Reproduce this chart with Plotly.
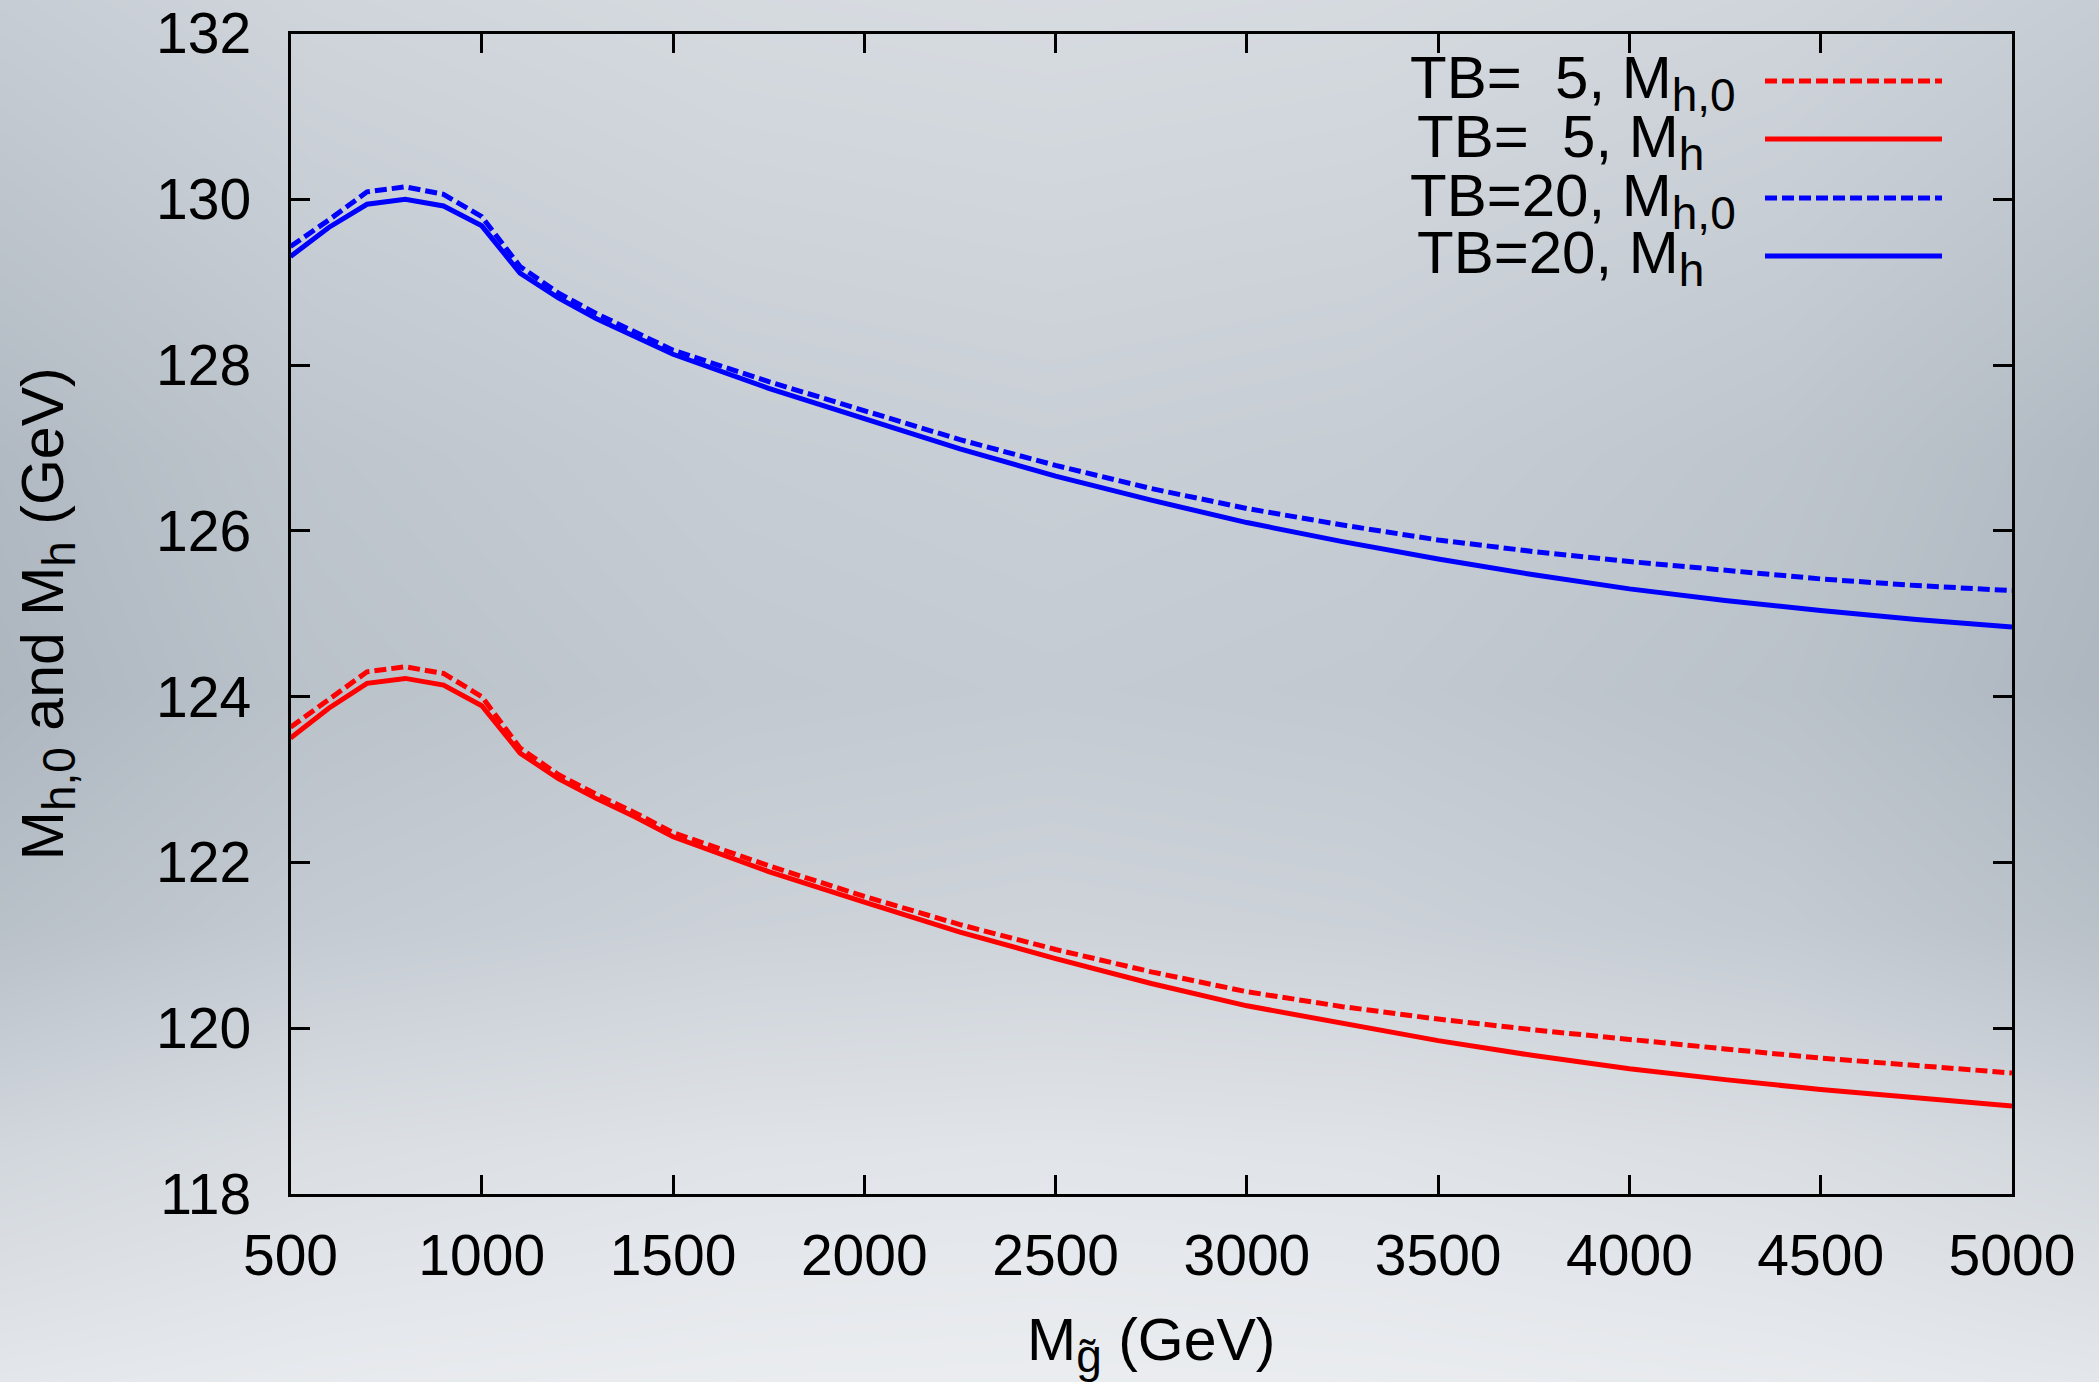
import plotly.graph_objects as go

# Gluino mass scan (GeV)
m_gluino = [500, 600, 700, 800, 900, 1000, 1100, 1200, 1300, 1400, 1500,
            1750, 2000, 2250, 2500, 2750, 3000, 3250, 3500, 3750, 4000,
            4250, 4500, 4750, 5000]

# Higgs masses (GeV): M_h,0 and full M_h for tan(beta) = 5 and 20
tb5_mh0 = [123.63, 123.96, 124.30, 124.36, 124.28, 124.00, 123.38, 123.06, 122.82,
           122.60, 122.36, 121.96, 121.59, 121.25, 120.95, 120.68, 120.44, 120.26,
           120.11, 119.98, 119.86, 119.75, 119.64, 119.55, 119.46]
tb5_mh = [123.50, 123.86, 124.16, 124.22, 124.14, 123.89, 123.32, 123.01, 122.77,
          122.55, 122.31, 121.89, 121.52, 121.16, 120.84, 120.54, 120.27, 120.06,
          119.85, 119.67, 119.51, 119.38, 119.26, 119.16, 119.06]
tb20_mh0 = [129.43, 129.75, 130.09, 130.15, 130.06, 129.79, 129.19, 128.87, 128.62,
            128.40, 128.18, 127.80, 127.45, 127.10, 126.79, 126.51, 126.27, 126.07,
            125.89, 125.75, 125.63, 125.52, 125.42, 125.34, 125.28]
tb20_mh = [129.31, 129.66, 129.94, 130.00, 129.92, 129.68, 129.11, 128.81, 128.56,
           128.34, 128.13, 127.72, 127.36, 126.99, 126.66, 126.37, 126.10, 125.87,
           125.66, 125.47, 125.30, 125.16, 125.04, 124.93, 124.84]

SUB = '<sub><span style="font-size:46px">{}</span></sub>'
DASH = "12px,5px"

series = [
    ("TB=\u00a0\u00a05, M" + SUB.format("h,0"), tb5_mh0, "#ff0000", DASH),
    ("TB=\u00a0\u00a05, M" + SUB.format("h"), tb5_mh, "#ff0000", "solid"),
    ("TB=20, M" + SUB.format("h,0"), tb20_mh0, "#0000ff", DASH),
    ("TB=20, M" + SUB.format("h"), tb20_mh, "#0000ff", "solid"),
]

x_ticks = [500, 1000, 1500, 2000, 2500, 3000, 3500, 4000, 4500, 5000]
y_ticks = [118, 120, 122, 124, 126, 128, 130, 132]

W, H = 2099, 1382
FONT = "Liberation Sans, Arial, Helvetica, sans-serif"
FS_TICK = 57
FS_TITLE = 59

fig = go.Figure()

# Soft slide-style backdrop: light at top and bottom, darker band with darker sides
bg_x = [0, 0.15, 0.35, 0.5, 0.65, 0.85, 1.0]
bg_edge_w = [1.0, 0.45, 0.1, 0.0, 0.1, 0.45, 1.0]
bg_y = [1.0, 0.83, 0.67, 0.5, 0.33, 0.17, 0.0]
bg_center = [0.68, 0.58, 0.48, 0.42, 0.55, 0.82, 0.95]
bg_edge = [0.45, 0.30, 0.15, 0.10, 0.25, 0.60, 0.85]
bg_z = [[c - w * (c - e) for w in bg_edge_w] for c, e in zip(bg_center, bg_edge)]

fig.add_trace(go.Heatmap(
    x=bg_x, y=bg_y, z=bg_z, zmin=0, zmax=1, zsmooth="best",
    colorscale=[[0, "#a6b0ba"], [1, "#eef0f3"]], showscale=False,
    hoverinfo="skip", xaxis="x", yaxis="y",
))

for name, vals, color, dash in series:
    fig.add_trace(go.Scatter(
        x=m_gluino, y=vals, mode="lines", name=name,
        line=dict(color=color, width=5, dash=dash),
        xaxis="x2", yaxis="y2", showlegend=False,
    ))

# Plot frame placement in pixels
L, R, T, B = 290.5, 2012, 33.5, 1194

# Key: label text on the left, line sample on the right
key_rows = [81, 139, 198, 256]
key_text_x = [1408, 1415, 1408, 1415]
for (name, vals, color, dash), ry, tx in zip(series, key_rows, key_text_x):
    fig.add_shape(type="line", xref="paper", yref="paper",
                  x0=1765 / W, x1=1942 / W, y0=1 - ry / H, y1=1 - ry / H,
                  line=dict(color=color, width=5, dash=dash))
    fig.add_annotation(xref="paper", yref="paper", x=tx / W, y=1 - (ry + 2) / H,
                       xanchor="left", yanchor="middle", text=name, showarrow=False,
                       font=dict(family=FONT, size=60, color="#000000"))

axis_common = dict(
    showline=True, linecolor="#000000", linewidth=3, mirror="ticks",
    ticks="inside", ticklen=19, tickwidth=2.5, tickcolor="#000000",
    showgrid=False, zeroline=False, automargin=False,
    tickfont=dict(family=FONT, size=FS_TICK, color="#000000"),
)

fig.update_layout(
    width=W, height=H,
    margin=dict(l=0, r=0, t=0, b=0, pad=0, autoexpand=False),
    paper_bgcolor="#dfe3e7",
    plot_bgcolor="rgba(0,0,0,0)",
    showlegend=False,
    xaxis=dict(domain=[0, 1], range=[0, 1], visible=False, fixedrange=True,
               automargin=False),
    yaxis=dict(domain=[0, 1], range=[0, 1], visible=False, fixedrange=True,
               automargin=False),
    xaxis2=dict(
        domain=[L / W, R / W], anchor="y2", range=[500, 5000],
        tickvals=x_ticks, ticktext=[str(v) for v in x_ticks],
        ticklabelstandoff=10,
        title=dict(text="M" + SUB.format("g\u0303") + " (GeV)", standoff=42,
                   font=dict(family=FONT, size=FS_TITLE, color="#000000")),
        **axis_common,
    ),
    yaxis2=dict(
        domain=[1 - B / H, 1 - T / H], anchor="x2", range=[118, 132],
        tickvals=y_ticks, ticktext=[str(v) for v in y_ticks],
        ticklabelstandoff=25,
        title=dict(text="M" + SUB.format("h,0") + " and M" + SUB.format("h") + " (GeV)",
                   standoff=74,
                   font=dict(family=FONT, size=FS_TITLE, color="#000000")),
        **axis_common,
    ),
)

fig.write_html("out.html")
